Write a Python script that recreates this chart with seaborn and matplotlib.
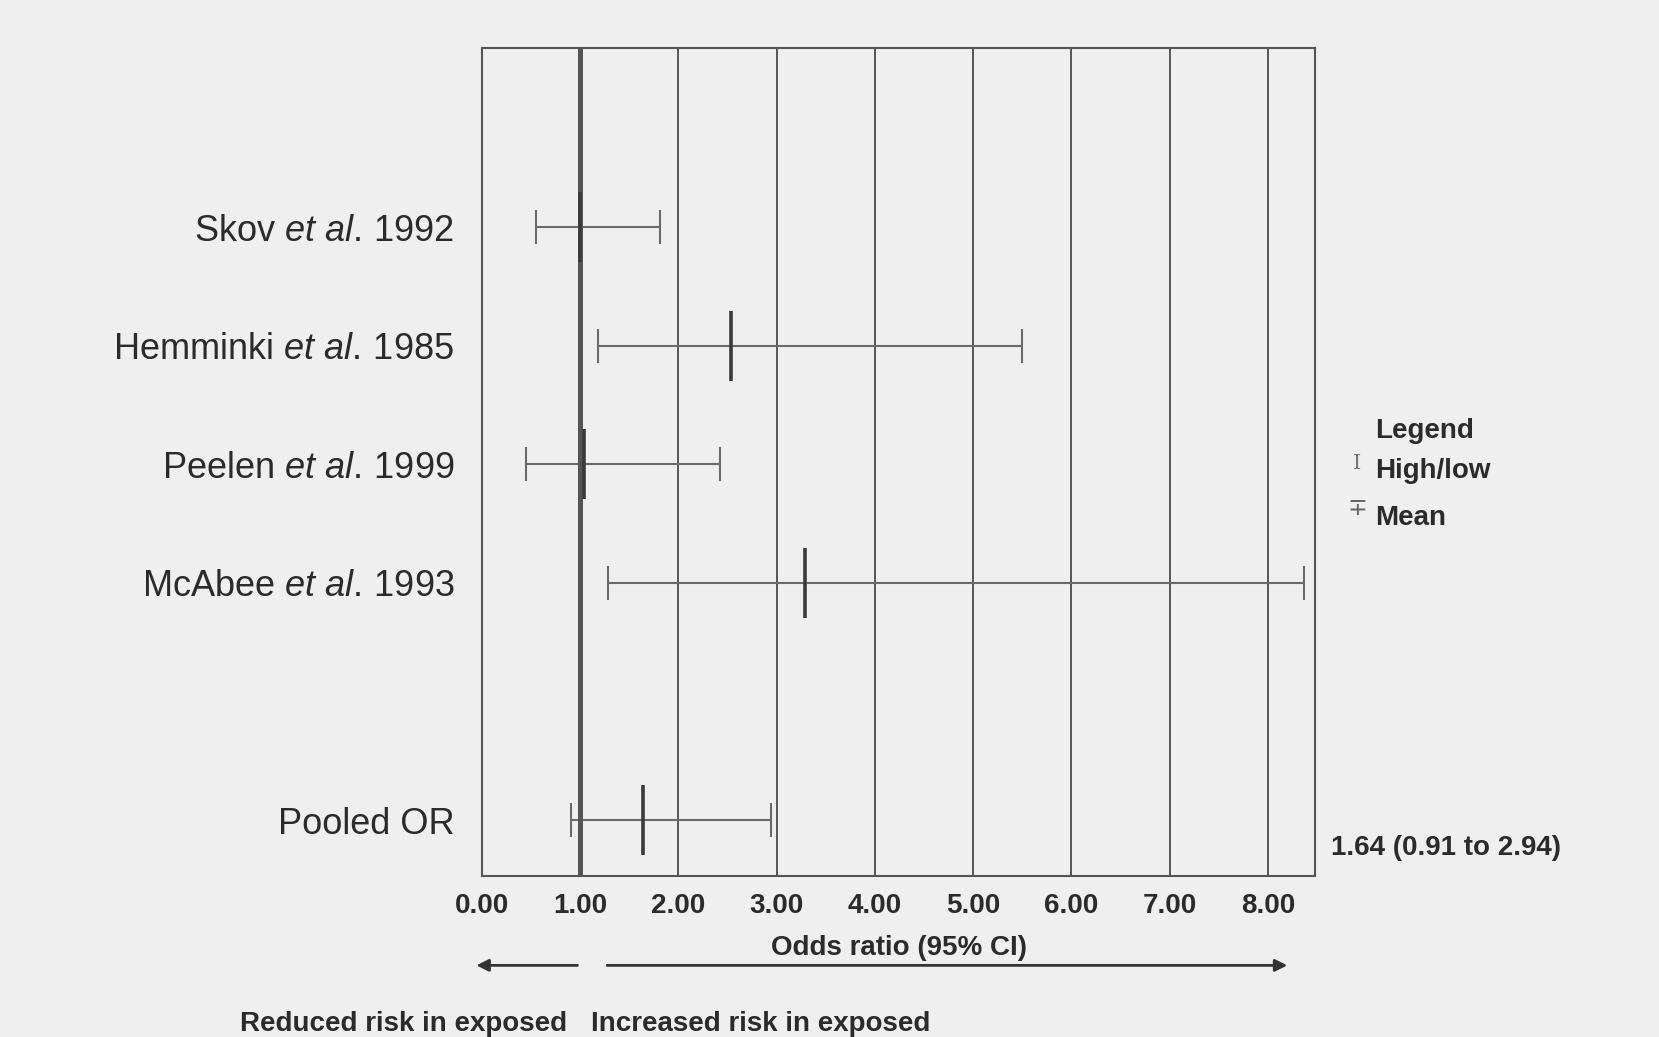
import numpy as np
import pandas as pd
import matplotlib
matplotlib.use("Agg")
import matplotlib.pyplot as plt
import seaborn as sns

# data
studies = [r"Skov $\it{et\ al.}\,$1992", r"Hemminki $\it{et\ al.}\,$1985",
           r"Peelen $\it{et\ al.}\,$1999", r"McAbee $\it{et\ al.}\,$1993", "Pooled OR"]
row_pos = [0, 1, 2, 3, 5]
or_mean = [1.00, 2.54, 1.04, 3.29, 1.64]
or_low = [0.55, 1.18, 0.45, 1.28, 0.91]
or_high = [1.81, 5.50, 2.42, 8.37, 2.94]
x_ticks = [0, 1, 2, 3, 4, 5, 6, 7, 8]
pooled_text = "1.64 (0.91 to 2.94)"

df = pd.DataFrame({"study": studies, "pos": row_pos, "mean": or_mean,
                   "low": or_low, "high": or_high})

sns.set_theme(style="white")
plt.rcParams['font.family'] = ['Liberation Sans', 'DejaVu Sans']
plt.rcParams['mathtext.fontset'] = 'custom'
plt.rcParams['mathtext.rm'] = 'Liberation Sans'
plt.rcParams['mathtext.it'] = 'Liberation Sans:italic'

bg = "#efefef"
ink = "#2b2b2b"
fig = plt.figure(figsize=(16.59, 10.37), dpi=100, facecolor=bg)
ax = fig.add_axes([0.2905, 0.1553, 0.5022, 0.7984])
ax.set_facecolor(bg)

# vertical grid lines, 1.00 line heavier
for v in x_ticks[1:]:
    ax.axvline(v, color="#555555", lw=1.4 if v != 1 else 3.6,
               zorder=1 if v != 1 else 3)

# confidence intervals
ax.errorbar(df["mean"], df["pos"],
            xerr=[df["mean"] - df["low"], df["high"] - df["mean"]],
            fmt="none", ecolor="#6a6a6a", elinewidth=1.5, capsize=12,
            capthick=1.5, zorder=2)
# means
sns.scatterplot(data=df, x="mean", y="pos", marker="|", s=2500,
                linewidth=2.6, color="#3a3a3a", ax=ax, zorder=4, legend=False)

ax.set_xlim(0, 8.48)
ax.set_ylim(5.47, -1.51)
ax.set_xticks(x_ticks)
ax.set_xticklabels([f"{v:.2f}" for v in x_ticks], fontsize=20,
                   fontweight="bold", color=ink)
ax.set_yticks(row_pos)
ax.set_yticklabels(studies, fontsize=26, color=ink)
ax.tick_params(axis="x", length=0, pad=12)
ax.tick_params(axis="y", length=0, pad=20)
ax.set_xlabel("Odds ratio (95% CI)", fontsize=20, fontweight="bold",
              color=ink, labelpad=12)
ax.set_ylabel("")
for s in ax.spines.values():
    s.set_visible(True)
    s.set_color("#555555")
    s.set_linewidth(1.5)

# pooled estimate text
fig.text(0.802, 0.182, pooled_text, fontsize=20, fontweight="bold",
         color=ink, va="center", ha="left")

# legend
fig.text(0.829, 0.578, "Legend", fontsize=20, fontweight="bold", color=ink)
fig.text(0.829, 0.539, "High/low", fontsize=20, fontweight="bold", color=ink)
fig.text(0.829, 0.494, "Mean", fontsize=20, fontweight="bold", color=ink)
fig.text(0.818, 0.548, "I", fontsize=15, color="#777777", ha="center",
         family="DejaVu Serif")
fig.text(0.818, 0.503, "\u2213", fontsize=17, color="#666666", ha="center")

# direction arrows
ax.annotate("", xy=(-0.01, -0.108), xytext=(0.118, -0.108),
            xycoords="axes fraction",
            arrowprops=dict(arrowstyle="-|>", color="#333333", lw=2,
                            mutation_scale=18))
ax.annotate("", xy=(0.97, -0.108), xytext=(0.147, -0.108),
            xycoords="axes fraction",
            arrowprops=dict(arrowstyle="-|>", color="#333333", lw=2,
                            mutation_scale=18))
fig.text(0.342, 0.006, "Reduced risk in exposed", fontsize=20,
         fontweight="bold", color=ink, ha="right")
fig.text(0.356, 0.006, "Increased risk in exposed", fontsize=20,
         fontweight="bold", color=ink, ha="left")

fig.savefig("out.png", dpi=100, facecolor=bg)
